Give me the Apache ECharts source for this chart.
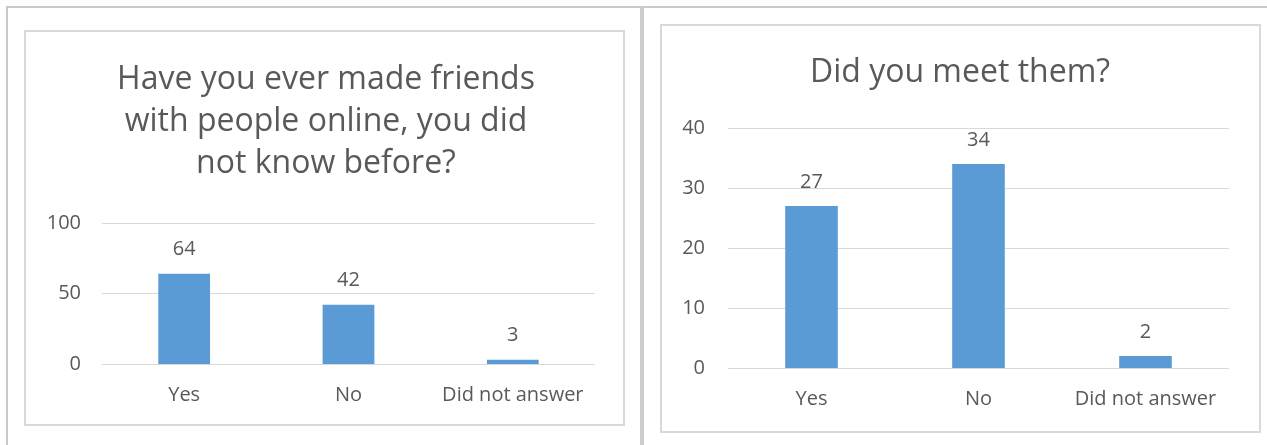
<!DOCTYPE html>
<html>
<head>
<meta charset="utf-8">
<title>Online friends survey</title>
<script src="https://cdn.jsdelivr.net/npm/echarts@6/dist/echarts.min.js"></script>
<style>
  html, body { margin: 0; padding: 0; background: #ffffff; }
  #chart { width: 1267px; height: 445px; }
</style>
</head>
<body>
<div id="chart"></div>
<script>
// Survey answers
const categories = ['Yes', 'No', 'Did not answer'];
const madeFriendsOnline = [64, 42, 3];
const metThem = [27, 34, 2];

const titleFriends = 'Have you ever made friends\nwith people online, you did\nnot know before?';
const titleMet = 'Did you meet them?';

const FONT = '"Open Sans", "Liberation Sans", sans-serif';
const TEXT = '#595959';
const BAR = '#5b9bd5';
const GRID_LINE = '#d9d9d9';

const chart = echarts.init(document.getElementById('chart'), null, { renderer: 'canvas' });

function catAxis(gridIndex) {
  return {
    type: 'category',
    gridIndex: gridIndex,
    data: categories,
    axisLine: { show: false },
    axisTick: { show: false },
    axisLabel: { interval: 0, color: TEXT, fontFamily: FONT, fontSize: 20, margin: 21 }
  };
}

function valAxis(gridIndex, max, interval, margin) {
  return {
    type: 'value',
    gridIndex: gridIndex,
    min: 0,
    max: max,
    interval: interval,
    axisLine: { show: false },
    axisTick: { show: false },
    splitLine: { lineStyle: { color: GRID_LINE, width: 1 } },
    axisLabel: { color: TEXT, fontFamily: FONT, fontSize: 20, margin: margin }
  };
}

function barSeries(axisIndex, values) {
  return {
    type: 'bar',
    xAxisIndex: axisIndex,
    yAxisIndex: axisIndex,
    data: values,
    barWidth: '31.5%',
    itemStyle: { color: BAR },
    label: {
      show: true,
      position: 'top',
      distance: 14,
      color: TEXT,
      fontFamily: FONT,
      fontSize: 20
    }
  };
}

const titleStyle = {
  color: TEXT,
  fontFamily: FONT,
  fontSize: 32,
  fontWeight: 400,
  lineHeight: 42
};

chart.setOption({
  animation: false,
  backgroundColor: '#ffffff',
  title: [
    { text: titleFriends, left: 326, top: 59, textAlign: 'center', padding: 0, textStyle: titleStyle },
    { text: titleMet, left: 960, top: 52, textAlign: 'center', padding: 0, textStyle: titleStyle }
  ],
  graphic: [
    // outer frame
    { type: 'rect', silent: true, shape: { x: 7, y: 6, width: 1260, height: 2 }, style: { fill: '#c9c9c9' } },
    { type: 'rect', silent: true, shape: { x: 6, y: 6, width: 2, height: 439 }, style: { fill: '#c9c9c9' } },
    { type: 'rect', silent: true, shape: { x: 640, y: 6, width: 4, height: 439 }, style: { fill: '#cccccc' } },
    // chart boxes
    { type: 'rect', silent: true, z: -1, shape: { x: 25, y: 31, width: 599, height: 394 },
      style: { fill: '#ffffff', stroke: '#d9d9d9', lineWidth: 2 } },
    { type: 'rect', silent: true, z: -1, shape: { x: 661, y: 25, width: 599, height: 407 },
      style: { fill: '#ffffff', stroke: '#d9d9d9', lineWidth: 2 } }
  ],
  grid: [
    { left: 102, width: 493, top: 223, height: 141 },
    { left: 728, width: 501, top: 128, height: 240 }
  ],
  xAxis: [catAxis(0), catAxis(1)],
  yAxis: [valAxis(0, 100, 50, 21), valAxis(1, 40, 10, 23)],
  series: [barSeries(0, madeFriendsOnline), barSeries(1, metThem)]
});
</script>
</body>
</html>
